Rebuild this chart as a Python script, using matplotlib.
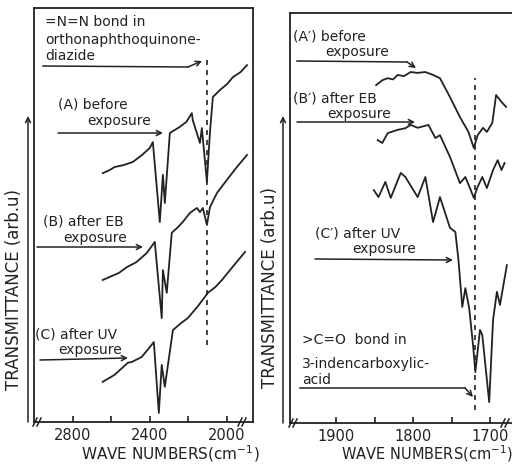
import matplotlib
matplotlib.use("Agg")
import matplotlib.pyplot as plt
from matplotlib.lines import Line2D
from matplotlib.patches import FancyArrowPatch

# left panel: 3000-1865 cm-1, transmittance in arb. units
wn_a = [2644, 2610, 2582, 2540, 2488, 2440, 2400, 2384, 2348, 2332, 2322, 2296,
        2244, 2210, 2182, 2177, 2140, 2130, 2104, 2088, 2073, 2036, 2000, 1969, 1930, 1896]
tr_a = [60.1, 60.8, 61.6, 62.0, 62.8, 64.5, 66.2, 67.6, 48.3, 59.7, 52.9, 69.8,
        71.3, 72.5, 74.6, 72.9, 67.4, 71.0, 58.0, 70.0, 78.5, 80.2, 81.6, 83.3, 84.5, 86.2]

wn_b = [2644, 2600, 2560, 2519, 2470, 2416, 2374, 2338, 2332, 2312, 2286, 2260,
        2229, 2192, 2156, 2140, 2125, 2104, 2088, 2052, 2000, 1950, 1896]
tr_b = [34.3, 35.2, 36.0, 37.4, 38.6, 40.8, 43.5, 25.1, 36.7, 31.2, 45.7, 46.8,
        48.3, 50.5, 51.7, 50.7, 51.7, 47.6, 51.9, 55.3, 58.5, 61.5, 64.5]

wn_c = [2644, 2582, 2514, 2493, 2442, 2410, 2379, 2353, 2338, 2322, 2280, 2240,
        2203, 2150, 2099, 2060, 2026, 1970, 1906]
tr_c = [9.7, 11.4, 14.3, 14.5, 15.7, 17.5, 19.3, 2.2, 13.8, 8.5, 22.2, 23.8,
        25.1, 28.0, 31.2, 32.6, 34.3, 37.5, 41.1]

# right panel: 1960-1672 cm-1
wn_a2 = [1848, 1840, 1833, 1826, 1820, 1812, 1803, 1794, 1784, 1774, 1765, 1752,
         1739, 1728, 1721, 1716, 1709, 1704, 1697, 1692, 1685, 1679]
tr_a2 = [82.4, 83.6, 84.1, 83.8, 84.9, 84.6, 85.6, 85.4, 85.6, 84.9, 84.1, 79.5,
         74.6, 71.0, 67.1, 70.2, 72.0, 71.0, 73.2, 80.0, 78.3, 77.1]

wn_b2 = [1846, 1840, 1833, 1820, 1810, 1803, 1794, 1780, 1771, 1765, 1752, 1739,
         1732, 1726, 1721, 1716, 1710, 1704, 1696, 1690, 1685, 1681]
tr_b2 = [69.0, 68.3, 70.7, 71.5, 71.9, 72.7, 72.0, 72.7, 69.5, 70.2, 64.9, 58.5,
         60.0, 57.3, 54.9, 57.6, 60.0, 57.3, 61.7, 64.1, 61.7, 63.4]

wn_c2 = [1851, 1845, 1836, 1829, 1816, 1810, 1794, 1784, 1774, 1765, 1752, 1745,
         1741, 1736, 1732, 1727, 1722, 1719, 1713, 1710, 1701, 1696, 1691, 1687, 1678]
tr_c2 = [56.8, 55.1, 58.8, 54.9, 61.0, 60.0, 55.1, 60.0, 49.0, 55.1, 47.6, 46.6,
         39.8, 28.3, 32.9, 28.0, 19.0, 12.4, 22.7, 21.5, 5.1, 25.1, 32.0, 28.8, 38.5]

nn_band = 2104   # =N=N band
co_band = 1720   # C=O band

W, H = 512, 465


def fp(x, y):
    return (x / W, 1 - y / H)


fig = plt.figure(figsize=(5.12, 4.65), dpi=100)
ax1 = fig.add_axes([34 / W, 1 - 422 / H, (253 - 34) / W, (422 - 8) / H])
ax2 = fig.add_axes([290 / W, 1 - 423 / H, (511.5 - 290) / W, (423 - 13) / H])

for x, y in [(wn_a, tr_a), (wn_b, tr_b), (wn_c, tr_c)]:
    ax1.plot(x, y, color='#222222', lw=1.3)
ax1.plot([nn_band, nn_band], [18.6, 87.4], color='#222222', lw=1.2, ls=(0, (3, 3)))
ax1.set_xlim(3000, 1865)
ax1.set_ylim(0, 100)
ax1.set_xticks([2800, 2600, 2400, 2200, 2000])
ax1.set_xticklabels(['2800', '', '2400', '', '2000'])

for x, y in [(wn_a2, tr_a2), (wn_b2, tr_b2), (wn_c2, tr_c2)]:
    ax2.plot(x, y, color='#222222', lw=1.3)
ax2.plot([co_band, co_band], [3.2, 84.1], color='#222222', lw=1.2, ls=(0, (3, 3)))
ax2.set_xlim(1960, 1672)
ax2.set_ylim(0, 100)
ax2.set_xticks([1900, 1850, 1800, 1750, 1700])
ax2.set_xticklabels(['1900', '', '1800', '', '1700'])
ax2.spines['right'].set_visible(False)

for ax in (ax1, ax2):
    ax.set_yticks([])
    ax.tick_params(axis='x', direction='in', length=4, width=1.2, labelsize=10.5, pad=4, colors='#222222')
    for s in ax.spines.values():
        s.set_linewidth(1.3)
        s.set_color('#222222')

txt = dict(fontsize=10, color='#222222', va='center', ha='left')
labels = [
    (45, 22, '=N=N bond in'), (45, 40, 'orthonaphthoquinone-'), (45, 56, 'diazide'),
    (58, 104, '(A) before'), (87, 121, 'exposure'),
    (43, 221, '(B) after EB'), (63, 238, 'exposure'),
    (35, 334, '(C) after UV'), (58, 350, 'exposure'),
    (293, 36, '(A′) before'), (325, 52, 'exposure'),
    (293, 98, '(B′) after EB'), (327, 114, 'exposure'),
    (315, 233, '(C′) after UV'), (352, 249, 'exposure'),
    (302, 340, '>C=O  bond in'), (302, 364, '3-indencarboxylic-'), (302, 380, 'acid'),
]
for x, y, s in labels:
    fig.text(*fp(x, y), s, **txt)

fig.text(*fp(170, 454), 'WAVE NUMBERS(cm$^{-1}$)', fontsize=11, ha='center', va='center', color='#222222')
fig.text(*fp(427, 454), 'WAVE NUMBERS(cm$^{-1}$)', fontsize=10.5, ha='center', va='center', color='#222222')
fig.text(*fp(14, 290), 'TRANSMITTANCE (arb.u)', fontsize=12, rotation=90, ha='center', va='center', color='#222222')
fig.text(*fp(270, 287), 'TRANSMITTANCE (arb.u)', fontsize=12, rotation=90, ha='center', va='center', color='#222222')


def line(pts):
    xs = [fp(*p)[0] for p in pts]
    ys = [fp(*p)[1] for p in pts]
    fig.add_artist(Line2D(xs, ys, transform=fig.transFigure, color='#222222', lw=1.1))


def arrow(p0, p1):
    fig.add_artist(FancyArrowPatch(fp(*p0), fp(*p1), transform=fig.transFigure,
                                   arrowstyle='->', mutation_scale=9, lw=1.1, color='#222222',
                                   shrinkA=0, shrinkB=0))


line([(43, 66), (188, 67)])
arrow((188, 67), (202, 61))
arrow((58, 133), (163, 133))
arrow((37, 247), (143, 247))
arrow((40, 360), (128, 358))
line([(297, 61), (407, 62)])
arrow((407, 62), (416, 68))
arrow((297, 122), (415, 122))
arrow((315, 259), (453, 260))
line([(300, 388), (465, 388)])
arrow((465, 388), (473, 397))

# y-axis arrows next to the labels
arrow((28, 422), (28, 116))
arrow((283, 423), (283, 116))

# axis break marks
for bx, by in [(37, 422), (242, 422), (293, 423), (505, 423)]:
    for dx in (-2, 2):
        line([(bx + dx - 2, by + 4), (bx + dx + 2, by - 4)])

fig.savefig('out.png', dpi=100)
